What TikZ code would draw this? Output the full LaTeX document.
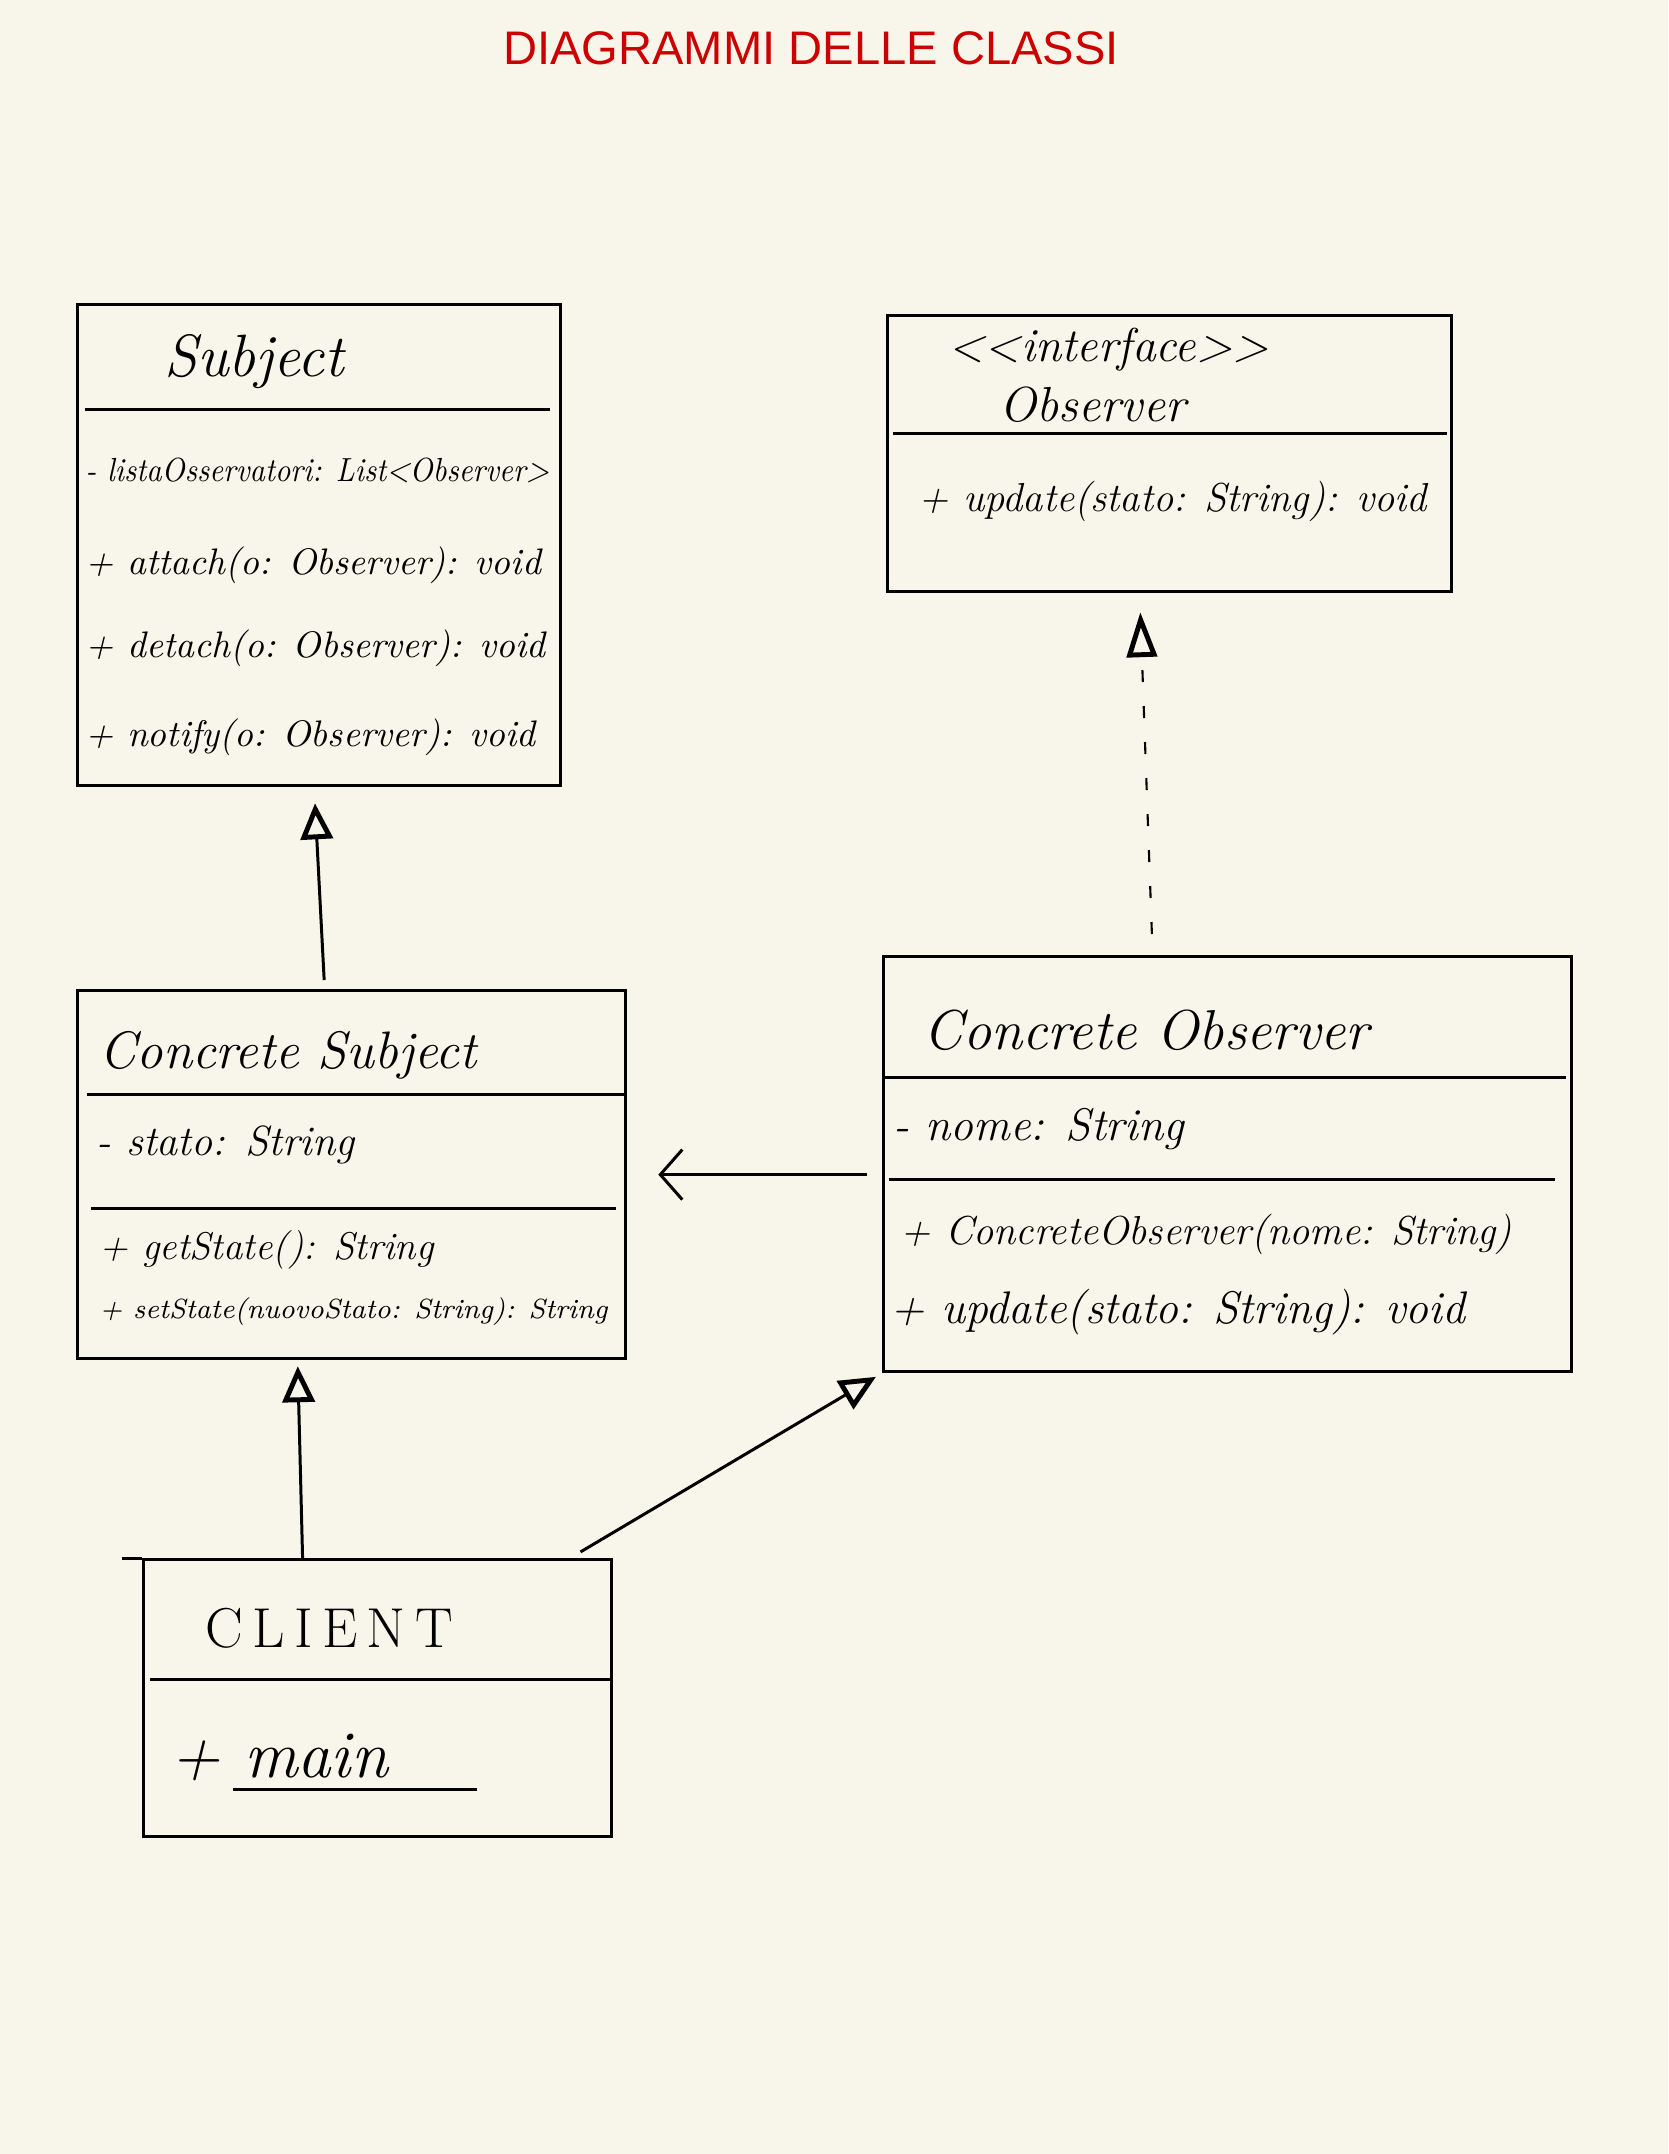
\documentclass[tikz,border=0pt]{standalone}
\usepackage{fontspec}
\newfontfamily\titlefont{Liberation Sans}
\usetikzlibrary{arrows.meta}
\definecolor{paper}{RGB}{248,246,234}
\definecolor{titlered}{RGB}{204,0,0}
\newcommand{\handsize}[1]{\fontsize{#1}{#1}\selectfont}
\tikzset{
  classbox/.style={draw, line width=0.85pt, inner sep=0pt, anchor=north west},
  member/.style={anchor=west, inner sep=0pt, font=\itshape\handsize{#1}},
  divider/.style={line width=0.85pt},
  generalize/.style={line width=0.85pt,
    -{Triangle[open, length=0.36cm, width=0.32cm, line width=1.4pt]}},
  realize/.style={line width=0.6pt, dash pattern=on 0.12cm off 0.24cm,
    -{Triangle[open, length=0.45cm, width=0.30cm, line width=1.4pt]}},
  assoc/.style={line width=0.85pt, -{Straight Barb[length=0.22cm, width=0.5cm]}}
}
\begin{document}
\begin{tikzpicture}[x=0.01cm, y=-0.01cm]
  % --- Paper: one unit is one pixel of the sheet, y grows downwards ---
  \fill[paper] (0,0) rectangle (1668,2154);
  \useasboundingbox (0,0) rectangle (1668,2154);
  \node[font=\titlefont\handsize{13.4}, text=titlered] (title) at (811,48)
    {DIAGRAMMI DELLE CLASSI};

  % --- Class boxes ---
  \node[classbox, minimum width=4.83cm, minimum height=4.81cm] (subj) at (76,303) {};
  \node[classbox, minimum width=5.64cm, minimum height=2.76cm] (obs) at (886,314) {};
  \node[classbox, minimum width=5.48cm, minimum height=3.68cm] (csub) at (76,989) {};
  \node[classbox, minimum width=6.88cm, minimum height=4.15cm] (cobs) at (882,955) {};
  \node[classbox, minimum width=4.68cm, minimum height=2.77cm] (client) at (142,1558) {};

  % --- Compartment lines ---
  \draw[divider] (85,409) -- (550,409);
  \draw[divider] (893,433) -- (1447,433);
  \draw[divider] (87,1094) -- (624,1094);
  \draw[divider] (91,1208) -- (616,1208);
  \draw[divider] (885,1077) -- (1566,1077);
  \draw[divider] (889,1179) -- (1555,1179);
  \draw[divider] (122,1558) -- (client.north west);
  \draw[divider] (150,1679) -- (610,1679);

  % --- Subject ---
  \node[font=\itshape\handsize{17}] (subjname) at (254,362) {Subject};
  \node[member=9.5, xscale=0.9, transform shape] (subjlist) at (85,470)
    {- listaOsservatori: List<Observer>};
  \node[member=10.5] (subjattach) at (85,565) {+ attach(o: Observer): void};
  \node[member=10.5] (subjdetach) at (85,648) {+ detach(o: Observer): void};
  \node[member=10.5] (subjnotify) at (85,737) {+ notify(o: Observer): void};

  % --- Observer (interface) ---
  \node[member=13.5] (obsstereo) at (948,350) {<{}<interface>{}>};
  \node[member=14] (obsname) at (999,405) {Observer};
  \node[member=11.5] (obsupdate) at (918,501) {+ update(stato: String): void};

  % --- Concrete Subject ---
  \node[member=15] (csubname) at (99,1055) {Concrete Subject};
  \node[member=12] (csubstate) at (96,1145) {- stato: String};
  \node[member=11] (csubget) at (99,1250) {+ getState(): String};
  \node[member=7.9] (csubset) at (99,1312) {+ setState(nuovoStato: String): String};

  % --- Concrete Observer ---
  \node[member=16] (cobsname) at (923,1030) {Concrete Observer};
  \node[member=13] (cobsnome) at (893,1129) {- nome: String};
  \node[member=11.5] (cobsctor) at (900,1234) {+ ConcreteObserver(nome: String)};
  \node[member=13] (cobsupdate) at (890,1312) {+ update(stato: String): void};

  % --- Client ---
  \node[anchor=west, inner sep=0pt, font=\handsize{16}] (clientname) at (205,1628)
    {C\,L\,I\,E\,N\,T};
  \node[member=19] (clientmain) at (170,1757) {+ main};
  \draw[divider] (233,1789) -- (477,1789);

  % --- Relations ---
  \draw[generalize, shorten <=0.09cm, shorten >=0.16cm]
    ([xshift=-0.27cm]csub.north) -- ([xshift=-0.05cm]subj.south);
  \draw[realize, shorten <=0.21cm, shorten >=0.19cm]
    ([xshift=-0.75cm]cobs.north) -- ([xshift=-0.30cm]obs.south);
  \draw[assoc, shorten <=0.15cm, shorten >=0.31cm]
    (cobs.west |- csub.east) -- (csub.east);
  \draw[generalize, shorten >=0.06cm]
    ([xshift=-0.75cm]client.north) -- ([xshift=-0.54cm]csub.south);
  \draw[generalize, shorten <=0.12cm, shorten >=0.07cm]
    ([xshift=-0.43cm]client.north east) -- (cobs.south west);
\end{tikzpicture}
\end{document}
